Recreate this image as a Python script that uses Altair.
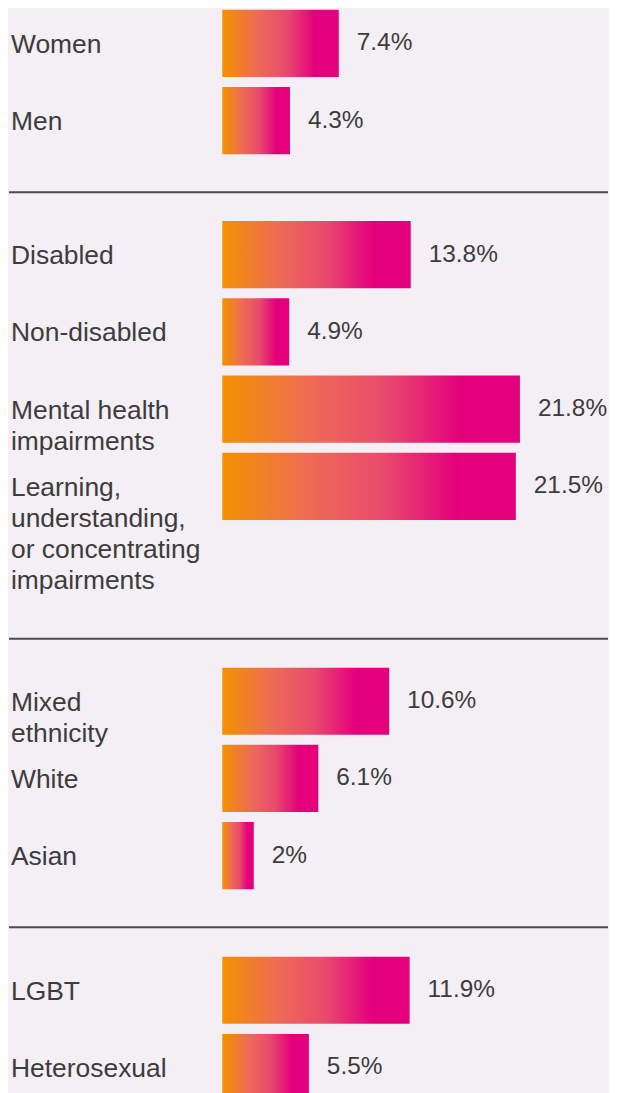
import altair as alt
import pandas as pd

# ---- data ----
labels = [
    "Women", "Men",
    "Disabled", "Non-disabled", "Mental health\nimpairments",
    "Learning,\nunderstanding,\nor concentrating\nimpairments",
    "Mixed\nethnicity", "White", "Asian",
    "LGBT", "Heterosexual",
]
values = [7.4, 4.3, 13.8, 4.9, 21.8, 21.5, 10.6, 6.1, 2.0, 11.9, 5.5]
group_ids = [0, 0, 1, 1, 1, 1, 2, 2, 2, 3, 3]

# ---- style ----
FONT = "Liberation Sans"
TEXT = "#3c3c3c"
BG = "#f3eff5"
LINE = "#4a4a4a"
W = 387
STEP = 77.5
PI = 0.13
gradient = {
    "gradient": "linear", "x1": 0, "x2": 1, "y1": 0, "y2": 0,
    "stops": [
        {"offset": 0, "color": "#f39200"},
        {"offset": 0.3, "color": "#ee6b56"},
        {"offset": 0.55, "color": "#e84a6d"},
        {"offset": 0.8, "color": "#e4007c"},
        {"offset": 1, "color": "#e4007c"},
    ],
}

# per-panel scale/layout settings: bottom gap (px) below last bar, with separator at panel bottom
panel_cfg = [
    dict(dmax=24.5, gap=38, rule=True),
    dict(dmax=28.25, gap=119, rule=True),
    dict(dmax=24.5, gap=38, rule=True),
    dict(dmax=24.5, gap=0, rule=False),
]

df = pd.DataFrame({"label": labels, "value": values, "group": group_ids})

panels = []
for g, cfg in enumerate(panel_cfg):
    sub = df[df["group"] == g].reset_index(drop=True)
    n = len(sub)
    order = list(sub["label"])
    po = cfg["gap"] / (2 * STEP)
    height = STEP * (n - PI + 2 * po)
    yenc = alt.Y("label:N", sort=order, axis=None,
                 scale=alt.Scale(paddingInner=PI, paddingOuter=po, align=0))
    xenc = alt.X("value:Q", axis=None, scale=alt.Scale(domain=[0, cfg["dmax"]], nice=False))
    base = alt.Chart(sub)
    bars = base.mark_bar(color=gradient).encode(x=xenc, y=yenc)
    vals = base.transform_calculate(
        txt="format(datum.value, '.1~f') + '%'"
    ).mark_text(align="left", baseline="middle", dx=18, fontSize=24.5, font=FONT, color=TEXT).encode(
        x=xenc, y=yenc, text="txt:N"
    )
    labs = base.mark_text(align="left", baseline="alphabetic", dy=9.5, lineBreak="\n",
                          lineHeight=31, fontSize=26.5, font=FONT, color=TEXT).encode(
        x=alt.value(-212), y=yenc, text="label:N"
    )
    layers = [bars, vals, labs]
    if cfg["rule"]:
        rule = alt.Chart(pd.DataFrame({"r": [0]})).mark_rule(color=LINE, strokeWidth=2).encode(
            x=alt.value(-214), x2=alt.value(W), y=alt.value(height)
        )
        layers.append(rule)
    panels.append(alt.layer(*layers).properties(width=W, height=height))

chart = alt.vconcat(*panels, spacing=28).configure_view(stroke=None).properties(
    background=BG, padding=0
)

chart.save("out.html", embed_options={"renderer": "svg", "actions": False})
